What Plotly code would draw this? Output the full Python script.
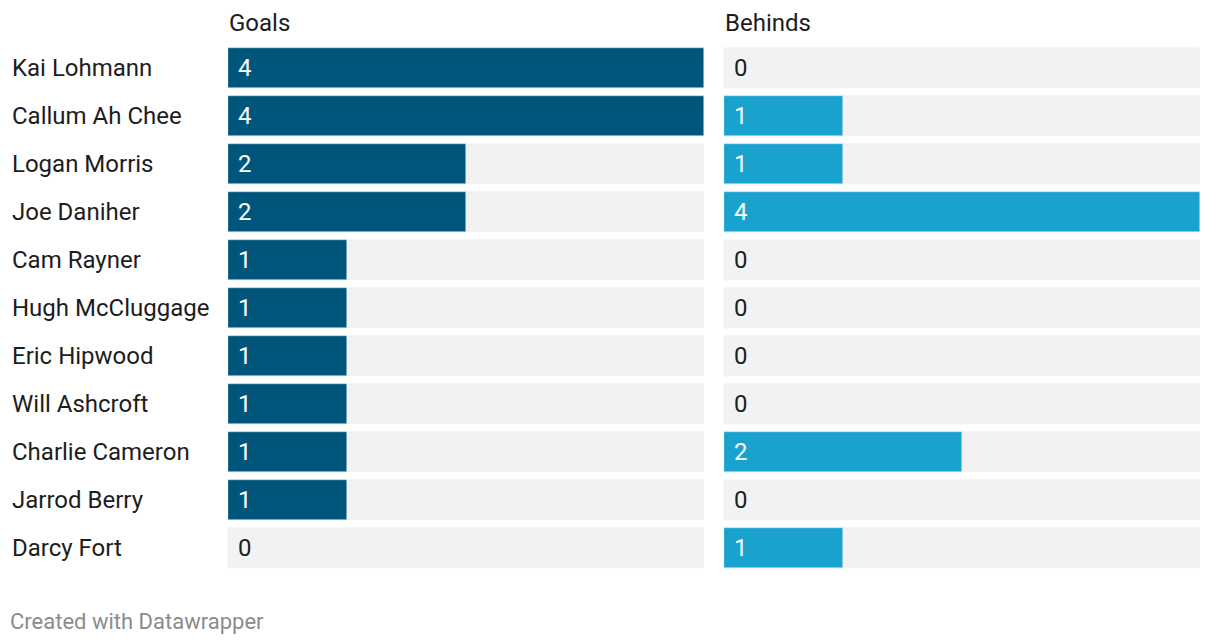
import plotly.graph_objects as go

players = ["Kai Lohmann", "Callum Ah Chee", "Logan Morris", "Joe Daniher", "Cam Rayner",
           "Hugh McCluggage", "Eric Hipwood", "Will Ashcroft", "Charlie Cameron",
           "Jarrod Berry", "Darcy Fort"]
goals = [4, 4, 2, 2, 1, 1, 1, 1, 1, 1, 0]
behinds = [0, 1, 1, 4, 0, 0, 0, 0, 2, 0, 1]
panel_titles = ["Goals", "Behinds"]
footer = "Created with Datawrapper"

OFF = 8  # page body margin
W, H = 1220 - OFF, 644 - OFF
FONT = "Roboto"
GOAL_COL = "#00557a"
BEH_COL = "#19a2ce"
BG_COL = "#f2f2f2"
TXT = "#1d1d1d"


def px(x):
    return (x - OFF) / W


def py(y):
    return 1 - (y - OFF) / H


rows = list(range(len(players)))
gmax = max(goals)
bmax = max(behinds)

fig = go.Figure()
fig.add_trace(go.Bar(y=rows, x=[gmax] * len(rows), orientation="h", marker_color=BG_COL,
                     width=40 / 48, xaxis="x", yaxis="y", hoverinfo="skip", showlegend=False))
fig.add_trace(go.Bar(y=rows, x=[bmax] * len(rows), orientation="h", marker_color=BG_COL,
                     width=40 / 48, xaxis="x2", yaxis="y", hoverinfo="skip", showlegend=False))
fig.add_trace(go.Bar(y=rows, x=goals, orientation="h", marker_color=GOAL_COL,
                     width=40 / 48, xaxis="x", yaxis="y", showlegend=False))
fig.add_trace(go.Bar(y=rows, x=behinds, orientation="h", marker_color=BEH_COL,
                     width=40 / 48, xaxis="x2", yaxis="y", showlegend=False))

ann = []
for i, name in enumerate(players):
    ann.append(dict(x=px(12), xref="paper", y=i, yref="y", text=name, showarrow=False,
                    xanchor="left", yanchor="middle", xshift=-2,
                    font=dict(family=FONT, size=24, color=TXT)))
    for xr, val in (("x", goals[i]), ("x2", behinds[i])):
        ann.append(dict(x=0, xref=xr, y=i, yref="y", text=str(val), showarrow=False,
                        xanchor="left", yanchor="middle", xshift=8,
                        font=dict(family=FONT, size=24,
                                  color="#ffffff" if val > 0 else TXT)))

for t, x0 in zip(panel_titles, (229, 725)):
    ann.append(dict(x=px(x0), xref="paper", y=py(23), yref="paper", text=t,
                    showarrow=False, xanchor="left", yanchor="middle", xshift=-2,
                    font=dict(family=FONT, size=24, color=TXT)))

ann.append(dict(x=px(10), xref="paper", y=py(621), yref="paper", text=footer,
                showarrow=False, xanchor="left", yanchor="middle", xshift=-2,
                font=dict(family=FONT, size=22, color="#8c8c8c")))

fig.update_layout(
    width=W, height=H, margin=dict(l=0, r=0, t=0, b=0),
    paper_bgcolor="white", plot_bgcolor="white", barmode="overlay", bargap=0,
    xaxis=dict(domain=[px(228), px(704)], range=[0, gmax], visible=False, fixedrange=True),
    xaxis2=dict(domain=[px(724), px(1200)], range=[0, bmax], visible=False, fixedrange=True),
    yaxis=dict(domain=[py(572), py(44)], range=[10.5, -0.5], visible=False,
               fixedrange=True),
    annotations=ann,
    font=dict(family=FONT),
)

fig.write_html("out.html")
